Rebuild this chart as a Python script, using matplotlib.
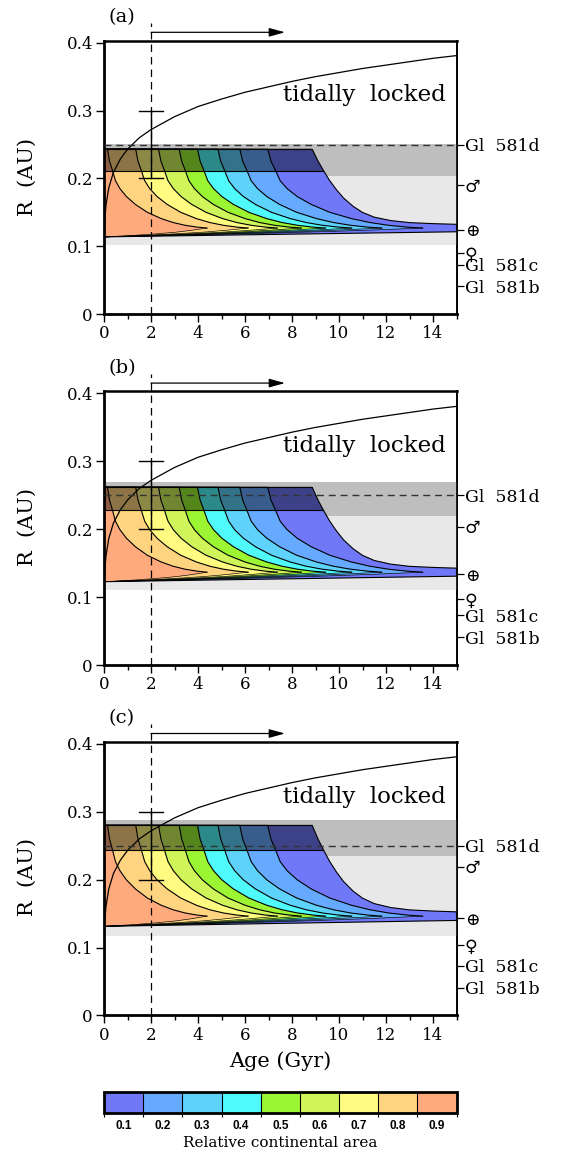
import numpy as np
import matplotlib
matplotlib.use("Agg")
import matplotlib.pyplot as plt
from matplotlib.patches import Polygon, Rectangle
from matplotlib.colors import ListedColormap, BoundaryNorm
import matplotlib.cm as cm

plt.rcParams["font.family"] = ["DejaVu Serif", "DejaVu Sans"]

# values; habitable zone distances are in AU for panel (a)
panel_labels = ["(a)", "(b)", "(c)"]
hz_scale = [1.0, 1.077, 1.152]

area_levels = [0.1, 0.2, 0.3, 0.4, 0.5, 0.6, 0.7, 0.8, 0.9]
area_colors = ["#7078f8", "#66aaff", "#5ed2fa", "#50fafa", "#9cf533",
               "#cff55a", "#fffa80", "#ffd480", "#ffaa7c"]

# age where each contour leaves the outer edge and age of its tip
contour_start = [8.86, 6.97, 5.78, 4.85, 3.98, 3.20, 2.32, 1.35, 0.15]
contour_tip = [15.0, 13.56, 11.82, 10.54, 9.43, 8.39, 7.37, 6.13, 4.38]

# common shape of the upper side of the contours
profile_height = [1.0, 0.85, 0.75, 0.6, 0.5, 0.4, 0.3, 0.2, 0.12, 0.07, 0.035, 0.012, 0.0]
profile_age = [0.0, 0.02, 0.045, 0.08, 0.125, 0.19, 0.28, 0.40, 0.54, 0.66, 0.78, 0.90, 1.0]
# lower side: fraction of age back from the tip vs fraction of tip height
lower_back = [0.0, 0.15, 0.3, 0.5, 0.75, 1.0]
lower_height = [1.0, 0.72, 0.5, 0.3, 0.12, 0.0]

# outer boundary of the 0.1 region
outer_age = [8.86, 9.1, 9.35, 9.6, 9.9, 10.2, 10.6, 11.0, 11.5, 12.2, 13.0, 14.0, 15.0]
outer_r = [0.243, 0.226, 0.211, 0.197, 0.183, 0.171, 0.159, 0.150, 0.143, 0.138, 0.135, 0.1335, 0.1325]

zone_top = 0.243
zone_tip = 0.127
inner_age = [0.0, 15.0]
inner_r = [0.114, 0.1215]

light_band = [0.102, 0.204]
dark_band = [0.204, 0.2505]
shade_band = [0.2115, 0.243]

tidal_age = [0, 0.0005, 0.003, 0.01, 0.03, 0.08, 0.2, 0.4, 0.7, 1.0, 1.5, 2.0, 3.0,
             4.0, 5.0, 6.0, 7.0, 8.0, 9.0, 10.0, 11.0, 12.0, 13.0, 14.0, 15.0]
tidal_r = [0, 0.064, 0.087, 0.113, 0.136, 0.160, 0.186, 0.209, 0.229, 0.243, 0.260,
           0.272, 0.291, 0.306, 0.317, 0.327, 0.335, 0.343, 0.350, 0.356, 0.362,
           0.367, 0.372, 0.377, 0.381]

gl_names = ["Gl  581d", "Gl  581c", "Gl  581b"]
gl_r = [0.25, 0.073, 0.041]
planet_names = ["\u2642", "\u2295", "\u2640"]
planet_r = [[0.190, 0.1245, 0.090],
            [0.204, 0.134, 0.097],
            [0.219, 0.1435, 0.104]]

age_estimate = 2.0
r_range = [0.2, 0.3]
arrow_end = 7.7


def inner_edge(t):
    return np.interp(t, inner_age, inner_r)


def contour_outline(k):
    a, b = contour_start[k], contour_tip[k]
    up_t = [a + (b - a) * g for g in profile_age]
    up_r = [zone_tip + (zone_top - zone_tip) * u for u in profile_height]
    lo_t = [b - b * f for f in lower_back]
    lo_r = [inner_edge(t) + (zone_tip - inner_edge(b)) * h for t, h in zip(lo_t, lower_height)]
    return [0] + up_t, [zone_top] + up_r, lo_t, lo_r


fig = plt.figure(figsize=(5.65, 11.55), dpi=100)
ax_bottoms = [0.7279, 0.4242, 0.1208]
ax_left, ax_w, ax_h = 0.1841, 0.6239, 0.2369

for i, label in enumerate(panel_labels):
    s = hz_scale[i]
    ax = fig.add_axes([ax_left, ax_bottoms[i], ax_w, ax_h])
    ax.set_xlim(0, 15)
    ax.set_ylim(0, 0.403)

    ax.axhspan(light_band[0] * s, light_band[1] * s, color="#e8e8e8", lw=0, zorder=1)
    ax.axhspan(dark_band[0] * s, dark_band[1] * s, color="#bebebe", lw=0, zorder=1)

    # outermost region
    xs = [0] + outer_age + [inner_age[1], inner_age[0]]
    ys = np.array([zone_top] + outer_r + [inner_r[1], inner_r[0]]) * s
    outer = Polygon(np.column_stack([xs, ys]), closed=True, facecolor=area_colors[0],
                    edgecolor="k", lw=0.8, zorder=2)
    ax.add_patch(outer)

    for k in range(1, len(area_levels)):
        up_t, up_r, lo_t, lo_r = contour_outline(k)
        xs = up_t + lo_t[1:]
        ys = np.array(up_r + lo_r[1:]) * s
        ax.add_patch(Polygon(np.column_stack([xs, ys]), closed=True,
                             facecolor=area_colors[k], edgecolor="none", zorder=2))
        ax.plot(up_t, np.array(up_r) * s, color="k", lw=0.8, zorder=2.5)
        ax.plot(lo_t, np.array(lo_r) * s, color="k", lw=0.45, zorder=2.5)

    shade = Rectangle((0, shade_band[0] * s), 15, (shade_band[1] - shade_band[0]) * s,
                      facecolor=(0, 0, 0, 0.45), edgecolor="k", lw=0.8, zorder=3)
    ax.add_patch(shade)
    shade.set_clip_path(outer)

    ax.plot(tidal_age, tidal_r, color="k", lw=0.9, zorder=4)
    ax.axhline(gl_r[0], color="#333333", lw=1.0, dashes=(5, 3.5), zorder=4)

    ax.plot([age_estimate, age_estimate], [0, 0.429], color="k", lw=0.9,
            dashes=(6, 4), clip_on=False, zorder=5)
    ax.plot([age_estimate, age_estimate], r_range, color="k", lw=1.0, zorder=5)
    for r in r_range:
        ax.plot([age_estimate - 0.5, age_estimate + 0.5], [r, r], color="k", lw=1.0, zorder=5)
    ax.annotate("", xy=(arrow_end, 0.4153), xytext=(age_estimate, 0.4153),
                arrowprops=dict(arrowstyle="-|>,head_length=0.8,head_width=0.22",
                                color="k", lw=0.9, mutation_scale=12,
                                shrinkA=0, shrinkB=0),
                annotation_clip=False)

    ax.text(14.55, 0.3225, "tidally  locked", ha="right", va="center", fontsize=16.5, zorder=6)
    ax.text(0.051, 1.087, label, transform=ax.transAxes, ha="center", va="center", fontsize=14)

    ax.set_yticks([0, 0.1, 0.2, 0.3, 0.4])
    ax.set_yticklabels(["0", "0.1", "0.2", "0.3", "0.4"], fontsize=12)
    ax.set_xticks(range(0, 15, 2))
    ax.set_xticklabels([str(v) for v in range(0, 15, 2)], fontsize=12)
    ax.set_xticks(range(1, 16, 2), minor=True)
    ax.tick_params(which="major", direction="out", length=6, width=1.0, pad=2)
    ax.tick_params(which="minor", direction="out", length=3.5, width=1.0)
    ax.tick_params(axis="y", which="minor", left=False)

    for side, lw in [("left", 2.0), ("bottom", 2.0), ("top", 1.8), ("right", 1.2)]:
        ax.spines[side].set_linewidth(lw)

    right = ax.secondary_yaxis("right")
    right.spines["right"].set_linewidth(1.2)
    ticks = [gl_r[0]] + planet_r[i] + gl_r[1:]
    names = [gl_names[0]] + planet_names + gl_names[1:]
    right.set_yticks(ticks)
    right.set_yticklabels(names, fontsize=12.5)
    right.tick_params(direction="out", length=5, width=0.9, pad=1)

    fig.text(27 / 565, 1 - (177.5 + 350 * i) / 1155, "R  (AU)", rotation=90,
             ha="center", va="center", fontsize=15)

fig.text(280.5 / 565, 1 - 1061 / 1155, "Age (Gyr)", ha="center", va="center", fontsize=15)

# colour bar for the continental area
cax = fig.add_axes([ax_left, 0.0364, ax_w, 0.0182])
bounds = [v - 0.05 for v in area_levels] + [area_levels[-1] + 0.05]
cmap = ListedColormap(area_colors)
norm = BoundaryNorm(bounds, cmap.N)
cb = fig.colorbar(cm.ScalarMappable(norm=norm, cmap=cmap), cax=cax,
                  orientation="horizontal", drawedges=True, ticks=area_levels)
cb.outline.set_linewidth(2.0)
cb.dividers.set_linewidth(0.8)
cax.set_xticklabels([f"{v:.1f}" for v in area_levels], fontsize=8.5,
                    fontweight="bold", family="Liberation Sans")
cax.set_xticks(bounds, minor=True)
cax.tick_params(which="major", length=0, pad=5)
cax.tick_params(which="minor", length=3, width=0.8)
cax.set_xlabel("Relative continental area", fontsize=11, labelpad=3)

fig.savefig("out.png", dpi=100)
